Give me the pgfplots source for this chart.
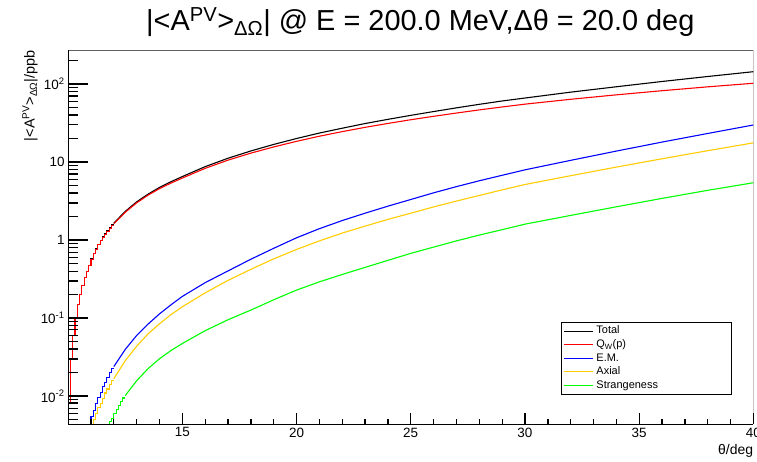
\documentclass[border=0pt]{standalone}
\usepackage{fontspec}
\setmainfont{Liberation Sans}
\usepackage{pgfplots}
\pgfplotsset{compat=1.18}
\definecolor{rootgold}{RGB}{255,204,0}
\definecolor{rootgreen}{RGB}{0,255,0}
\definecolor{framegray}{RGB}{95,95,95}
\begin{document}
\begin{tikzpicture}
\begin{axis}[
  name=ax,
  scale only axis, width=685bp, height=374bp,
  xmin=10, xmax=40, ymode=log, ymin=0.0044, ymax=272,
  axis line style={draw=none},
  tick pos=left,
  xtick={15,20,25,30,35,40},
  ytick={0.01,0.1,1,10,100},
  yticklabels={10\textsuperscript{-2},10\textsuperscript{-1},1,10,10\textsuperscript{2}},
  minor ytick={},
  xtick style={draw=none}, ytick style={draw=none},
  ticklabel style={font=\fontsize{13.5}{16}\selectfont},
  /pgf/number format/assume math mode=true,
  title={|<A\textsuperscript{PV}>\textsubscript{ΔΩ}| @ E = 200.0 MeV,Δθ = 20.0 deg},
  title style={at={(rel axis cs:0.514,1)}, anchor=base, yshift=14bp, inner sep=0pt, font=\fontsize{29}{33}\selectfont},
  ylabel={|<A\textsuperscript{PV}>\textsubscript{ΔΩ}|/ppb},
  ylabel style={at={(rel axis cs:-0.044,1)}, anchor=south east, inner sep=0pt, font=\fontsize{14.5}{17}\selectfont},
  xlabel={θ/deg},
  xlabel style={at={(rel axis cs:1,0)}, anchor=north east, yshift=-20bp, inner sep=0pt, font=\fontsize{14}{17}\selectfont},
  no markers,
  every axis plot/.append style={line width=1.1bp},
  legend image code/.code={\draw[#1, line width=1.3bp] (0bp,0bp) -- (29bp,0bp);},
  legend cell align=left,
  legend style={at={(rel axis cs:0.719,0.2727)}, anchor=north west, draw=black, line width=0.8bp,
    font=\fontsize{11}{13}\selectfont, inner sep=2bp, row sep=0pt,
    nodes={inner ysep=1.5bp, inner xsep=3bp, text height=8bp, text depth=2.5bp}},
]
% Total
\addplot[black, const plot, forget plot] coordinates {
(10,0.0044) (10,0.0084) (10.1,0.0296) (10.2,0.0602) (10.3,0.1013) (10.4,0.1485) (10.5,0.2008) (10.6,0.262) (10.7,0.330) (10.8,0.401) (10.9,0.475)
(11.0,0.573) (11.1,0.672) (11.2,0.771) (11.3,0.886) (11.4,0.998) (11.5,1.095) (11.6,1.21) (11.7,1.32) (11.8,1.445) (11.9,1.58) (12.0,1.58)};
\addplot[black] coordinates {
(12.0,1.65) (12.5,2.33) (13,3.09) (13.5,3.88) (14,4.73) (14.5,5.59) (15,6.51) (16,8.73) (17,11.18) (18,13.86) (19,16.8) (20,20.0)
(21,23.5) (22,27.1) (23,31.1) (24,35.2) (25,39.6) (26,44.3) (27,49.4) (28,54.8) (29,60.5) (30,66.0)
(32,78.5) (34,92.0) (36,107.5) (38,124.5) (40,143.5)};
\addlegendentry{Total}
% Q_W(p)
\addplot[red, const plot, forget plot] coordinates {
(10,0.0044) (10,0.0084) (10.1,0.0295) (10.2,0.060) (10.3,0.101) (10.4,0.148) (10.5,0.200) (10.6,0.261) (10.7,0.328) (10.8,0.399) (10.9,0.472)
(11.0,0.568) (11.1,0.665) (11.2,0.762) (11.3,0.875) (11.4,0.985) (11.5,1.08) (11.6,1.19) (11.7,1.30) (11.8,1.42) (11.9,1.55) (12.0,1.55)};
\addplot[red] coordinates {
(12.0,1.62) (12.5,2.27) (13,3.0) (13.5,3.76) (14,4.56) (14.5,5.37) (15,6.23) (16,8.3) (17,10.57) (18,13.0) (19,15.6) (20,18.4)
(21,21.4) (22,24.5) (23,27.8) (24,31.2) (25,34.8) (26,38.5) (27,42.4) (28,46.5) (29,50.7) (30,55.1)
(32,63.6) (34,72.5) (36,81.9) (38,91.8) (40,102)};
\addlegendentry{Q\textsubscript{W}(p)}
% E.M.
\addplot[blue, const plot, forget plot] coordinates {
(10,0.0044) (11.0,0.0055) (11.1,0.0066) (11.2,0.0081) (11.3,0.0096) (11.4,0.0112) (11.5,0.0132) (11.6,0.0151) (11.7,0.0174) (11.8,0.0200) (11.9,0.0226) (12.0,0.0226)};
\addplot[blue] coordinates {
(12.0,0.0240) (12.5,0.0398) (13,0.060) (13.5,0.084) (14,0.1135) (14.5,0.148) (15,0.190) (16,0.285) (17,0.403) (18,0.569) (19,0.785) (20,1.07)
(21,1.40) (22,1.78) (23,2.21) (24,2.72) (25,3.31) (26,4.03) (27,4.84) (28,5.75) (29,6.76) (30,7.94)
(32,10.5) (34,13.8) (36,18.0) (38,23.2) (40,29.8)};
\addlegendentry{E.M.}
% Axial
\addplot[rootgold, const plot, forget plot] coordinates {
(10,0.0044) (11.1,0.0051) (11.2,0.0060) (11.3,0.0071) (11.4,0.0081) (11.5,0.0094) (11.6,0.0110) (11.7,0.0124) (11.8,0.0141) (11.9,0.0158) (12.0,0.0158)};
\addplot[rootgold] coordinates {
(12.0,0.0168) (12.5,0.0285) (13,0.0437) (13.5,0.063) (14,0.0847) (14.5,0.111) (15,0.140) (16,0.211) (17,0.305) (18,0.422) (19,0.575) (20,0.759)
(21,0.977) (22,1.23) (23,1.51) (24,1.84) (25,2.21) (26,2.66) (27,3.16) (28,3.73) (29,4.40) (30,5.15)
(32,6.68) (34,8.61) (36,11.0) (38,13.96) (40,17.6)};
\addlegendentry{Axial}
% Strangeness
\addplot[rootgreen, const plot, forget plot] coordinates {
(10,0.0044) (11.8,0.0047) (11.9,0.0052) (12.0,0.0060) (12.1,0.0068) (12.2,0.0076) (12.3,0.0085) (12.4,0.0095) (12.5,0.0095)};
\addplot[rootgreen] coordinates {
(12.5,0.0102) (13,0.0158) (13.5,0.0226) (14,0.0302) (14.5,0.0385) (15,0.0474) (16,0.0692) (17,0.0955) (18,0.127) (19,0.172) (20,0.229)
(21,0.292) (22,0.363) (23,0.447) (24,0.550) (25,0.676) (26,0.813) (27,0.977) (28,1.16) (29,1.36) (30,1.60)
(32,2.07) (34,2.67) (36,3.42) (38,4.34) (40,5.43)};
\addlegendentry{Strangeness\hspace*{68bp}}
\draw[framegray, line width=1.2bp] (rel axis cs:0,1) -- (rel axis cs:1,1) -- (rel axis cs:1,0);
\draw[black, line width=1bp] (rel axis cs:0,1) -- (rel axis cs:0,0) -- (rel axis cs:1,0);
\end{axis}
% ROOT-style ticks, drawn inward: 22.84bp per degree, 78.06bp per decade
\foreach \t in {5,10,15,20,25,30}
  \draw[black, line width=1.3bp] ([xshift=\t*22.84bp]ax.south west) -- ++(0bp,11bp);
\foreach \t in {1,2,3,4,6,7,8,9,11,12,13,14,16,17,18,19,21,22,23,24,26,27,28,29}
  \draw[black, line width=1.3bp] ([xshift=\t*22.84bp]ax.south west) -- ++(0bp,5.5bp);
\foreach \v in {0.01,0.1,1,10,100}
  \draw[black, line width=1.3bp] ([yshift={(log10(\v)+2.35655)*78.06bp}]ax.south west) -- ++(20bp,0bp);
\foreach \v in {0.005,0.006,0.007,0.008,0.009,0.02,0.03,0.04,0.05,0.06,0.07,0.08,0.09,0.2,0.3,0.4,0.5,0.6,0.7,0.8,0.9,2,3,4,5,6,7,8,9,20,30,40,50,60,70,80,90,200}
  \draw[black, line width=1.3bp] ([yshift={(log10(\v)+2.35655)*78.06bp}]ax.south west) -- ++(10bp,0bp);
\pgfresetboundingbox
\path[use as bounding box] ([xshift=-68.1bp,yshift=-37bp]ax.south west) rectangle ([xshift=3.7bp,yshift=50bp]ax.north east);
\end{tikzpicture}
\end{document}
